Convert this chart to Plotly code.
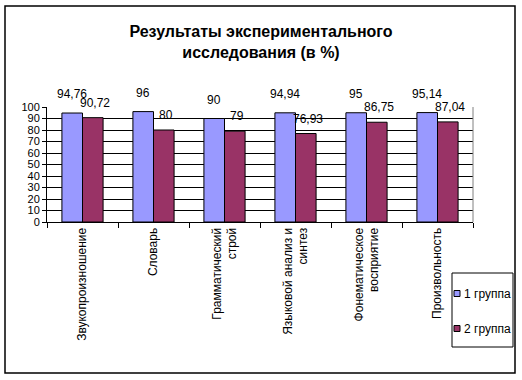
import plotly.graph_objects as go

categories = ["Звукопроизношение", "Словарь", "Грамматический<br>строй",
              "Языковой анализ и<br>синтез", "Фонематическое<br>восприятие", "Произвольность"]
series_names = ["1 группа", "2 группа"]
group1 = [94.76, 96, 90, 94.94, 95, 95.14]
group2 = [90.72, 80, 79, 76.93, 86.75, 87.04]
colors = ["#9999FF", "#993366"]
title_text = "Результаты экспериментального<br>исследования (в %)"

FONT = "Arial, Liberation Sans, sans-serif"
W, H = 522, 380
L, R, T, B = 47, 473, 107, 222  # plot area in pixels


def px2x(px):
    return (px - L) / (R - L)


def px2y(py):
    return (B - py) / (B - T)


def fmt(v):
    s = f"{v:.2f}".rstrip("0").rstrip(".")
    return s.replace(".", ",")


fig = go.Figure()
for name, vals, col in zip(series_names, [group1, group2], colors):
    fig.add_trace(go.Bar(x=categories, y=vals, name=name,
                         marker=dict(color=col, line=dict(color="black", width=1)),
                         showlegend=False))

annotations = []
for gi, vals in enumerate([group1, group2]):
    for c, v in zip(categories, vals):
        annotations.append(dict(x=c, y=v, xref="x", yref="y", text=fmt(v),
                                showarrow=False, xshift=-11 if gi == 0 else 12,
                                yshift=19 if gi == 0 else 15, yanchor="middle",
                                font=dict(family=FONT, size=12, color="black")))

# outer border, plot-area border and manual legend
shapes = [
    dict(type="rect", xref="paper", yref="paper", x0=px2x(5), x1=px2x(515),
         y0=px2y(373), y1=px2y(6), line=dict(color="black", width=1.5), layer="below"),
    dict(type="line", xref="paper", yref="paper", x0=1, x1=1, y0=0, y1=1,
         line=dict(color="#808080", width=1)),
    dict(type="rect", xref="paper", yref="paper", x0=px2x(452), x1=px2x(513),
         y0=px2y(347), y1=px2y(273), line=dict(color="black", width=1)),
]
for i, (name, col) in enumerate(zip(series_names, colors)):
    cy = 293.5 + i * 35
    shapes.append(dict(type="rect", xref="paper", yref="paper", x0=px2x(454), x1=px2x(460),
                       y0=px2y(cy + 3), y1=px2y(cy - 3), fillcolor=col,
                       line=dict(color="black", width=1)))
    annotations.append(dict(x=px2x(461.5), y=px2y(cy), xref="paper", yref="paper", text=name,
                            showarrow=False, xanchor="left", yanchor="middle",
                            font=dict(family=FONT, size=12, color="black")))

fig.update_layout(
    width=W, height=H,
    margin=dict(l=L, r=W - R, t=T, b=H - B, pad=0),
    paper_bgcolor="white", plot_bgcolor="white",
    barmode="group", bargap=0.42, bargroupgap=0,
    title=dict(text=title_text, x=0.5, xref="container", y=1 - 37 / H, yref="container",
               xanchor="center", yanchor="middle",
               font=dict(family=FONT, size=16, color="black", weight="bold")),
    font=dict(family=FONT, size=12, color="black"),
    xaxis=dict(type="category", tickangle=-90, tickson="boundaries", ticks="outside",
               ticklen=5, tickcolor="black", showline=True, linecolor="black",
               linewidth=1, showgrid=False, tickfont=dict(family=FONT, size=12)),
    yaxis=dict(range=[0, 100], dtick=10, ticks="outside", ticklen=4, tickcolor="black",
               showline=True, linecolor="black", linewidth=1, showgrid=True,
               gridcolor="black", gridwidth=1, zeroline=False,
               tickfont=dict(family=FONT, size=11)),
    shapes=shapes,
    annotations=annotations,
)

fig.write_html("out.html", config={"displayModeBar": False},
               post_script="document.body.style.margin='0';document.body.style.overflow='hidden';")
